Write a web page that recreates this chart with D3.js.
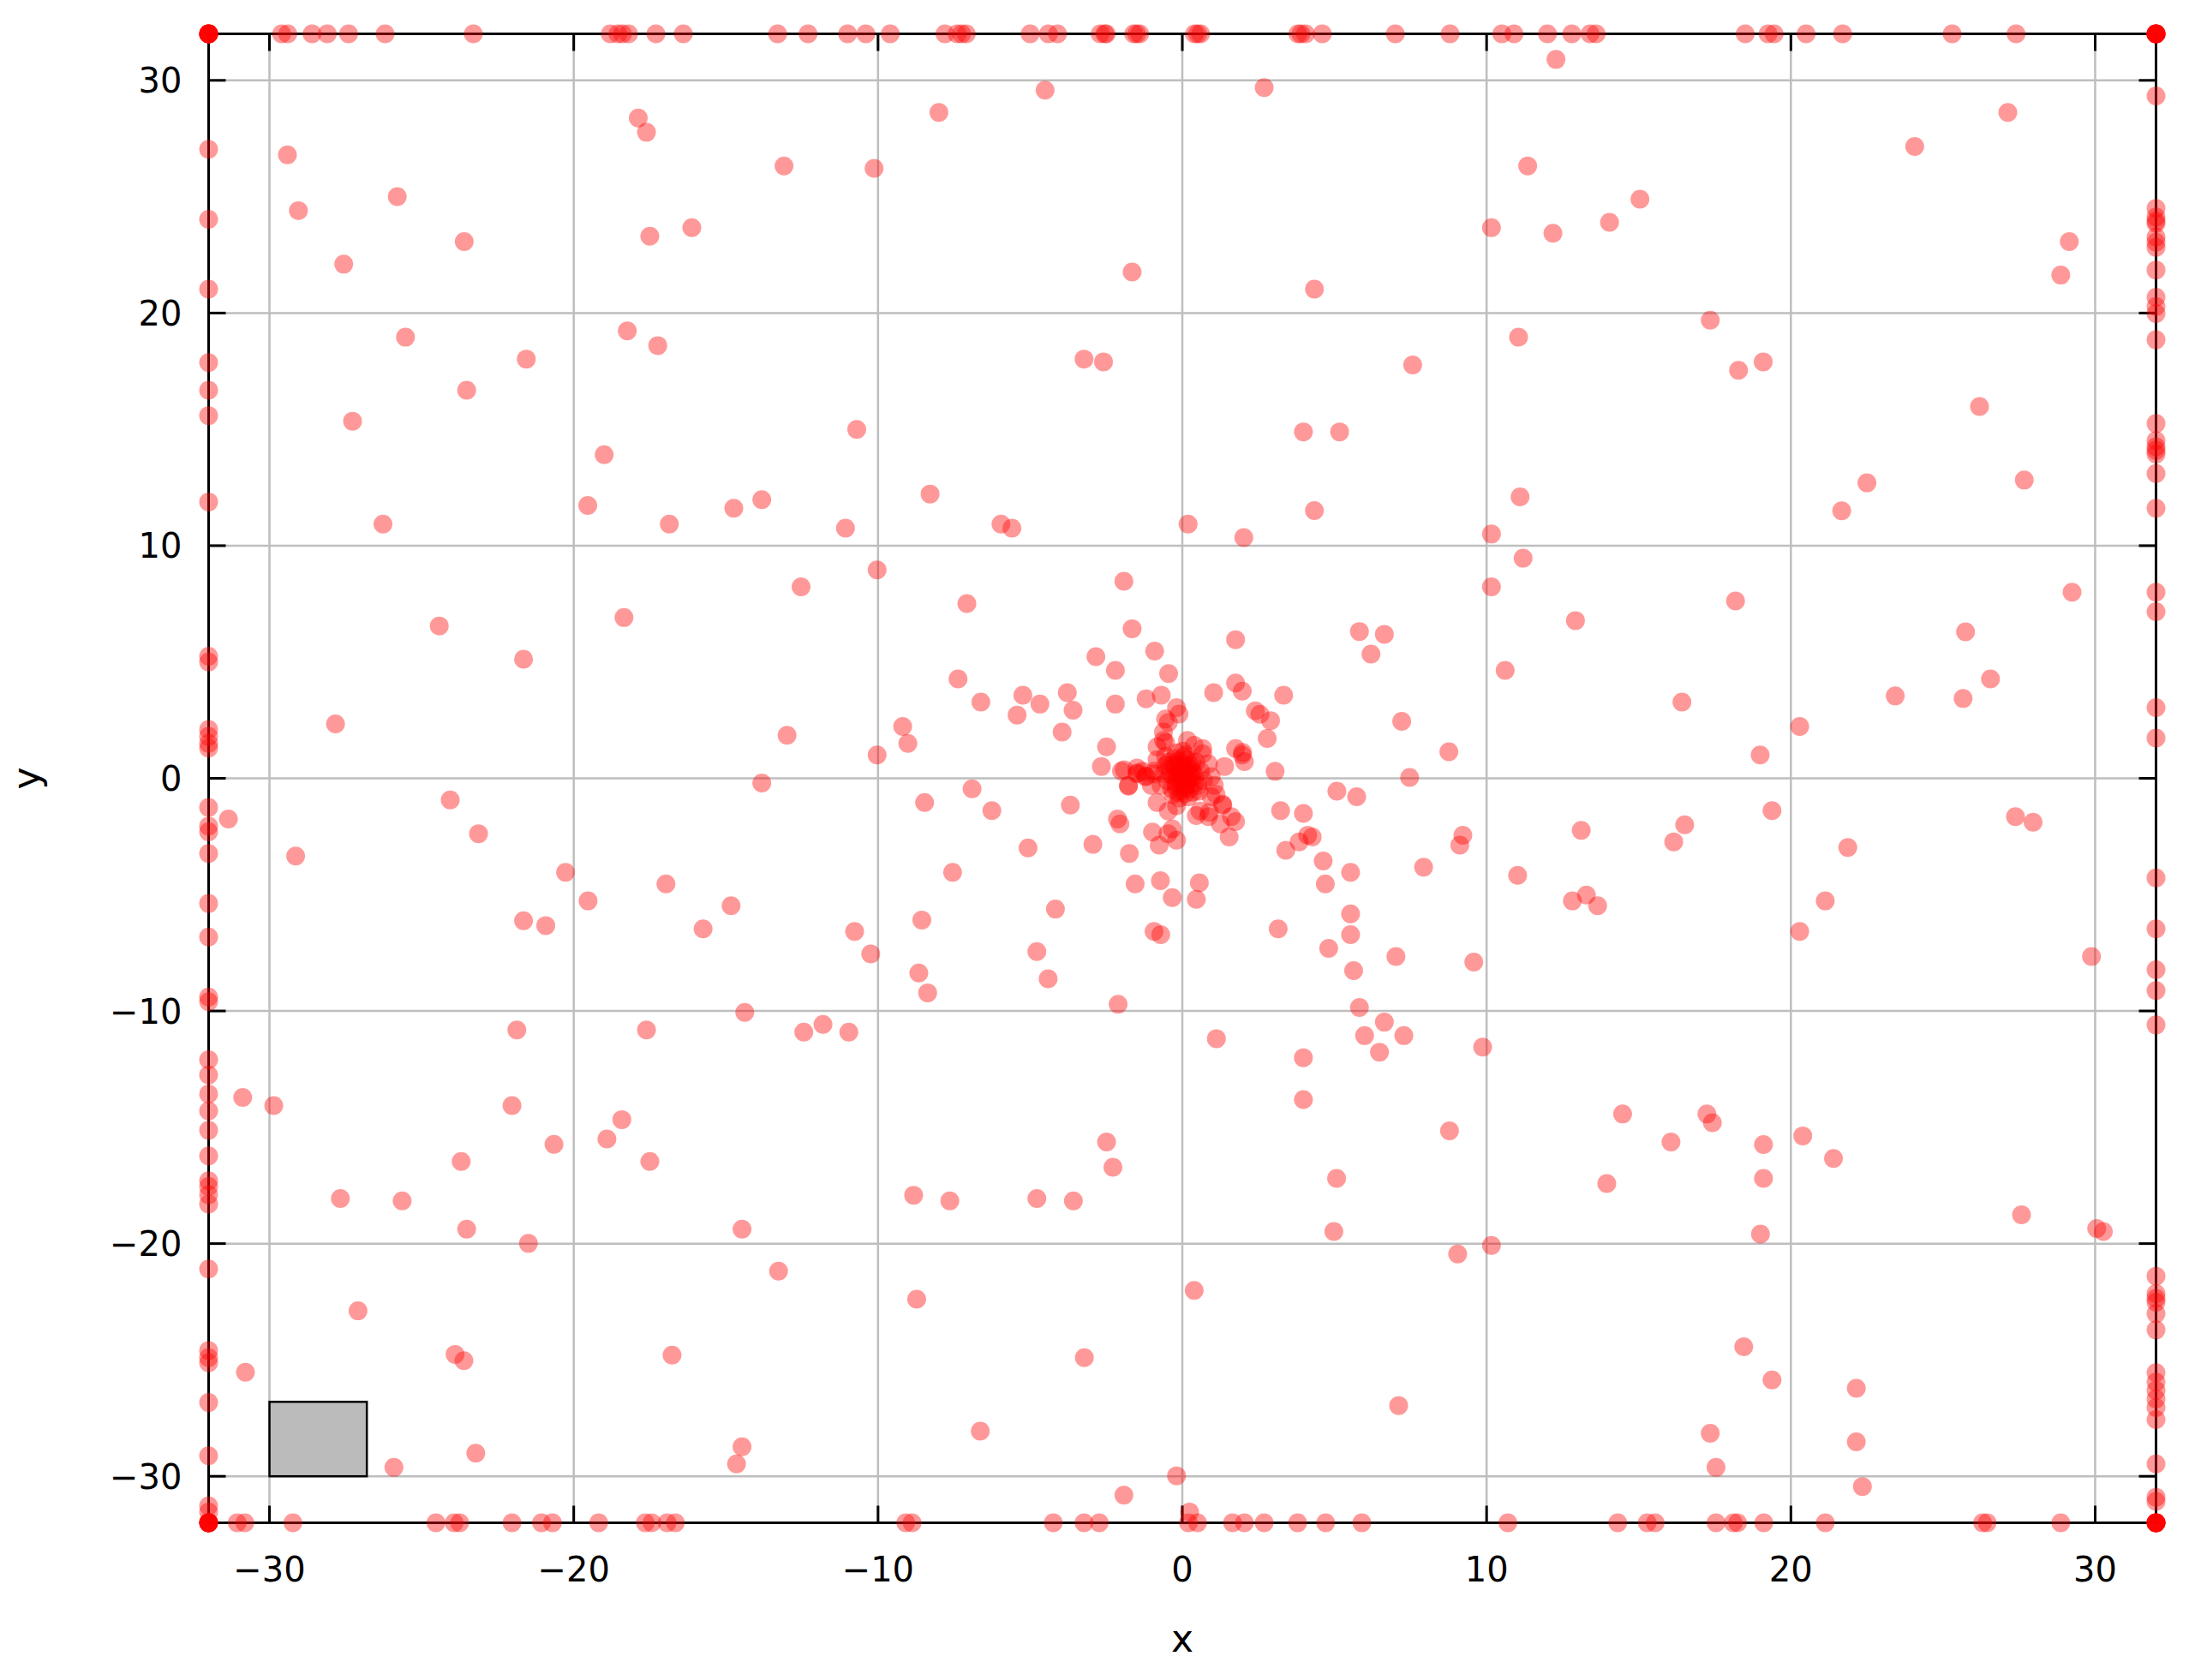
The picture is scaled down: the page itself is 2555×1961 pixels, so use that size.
<!DOCTYPE html>
<html>
<head>
<meta charset="utf-8">
<script src="https://cdn.jsdelivr.net/npm/d3@7"></script>
<style>
  html, body { margin: 0; padding: 0; background: #ffffff; }
  svg { display: block; }
  text { font-family: "DejaVu Sans", Verdana, sans-serif; fill: #000; }
</style>
</head>
<body>
<script>
// ---------------- DATA ----------------
const xTicks = [-30, -20, -10, 0, 10, 20, 30];
const yTicks = [-30, -20, -10, 0, 10, 20, 30];
const xDomain = [-32, 32];
const yDomain = [-32, 32];
const xLabel = "x";
const yLabel = "y";

// grey key box (data coords)
const keyBox = [[-30, -30], [-26.8, -26.8]];

// interior points [x, y]
const scatterPoints = [
  [-17.88,28.38],[-17.61,27.77],[-29.41,26.8],[-13.09,26.32],[-25.8,25.0],[-29.05,24.4],[-16.12,23.67],
  [-17.5,23.3],[-23.6,23.07],[-27.56,22.1],[-25.53,18.96],[-18.24,19.23],[-17.24,18.6],[-21.56,18.02],
  [-23.52,16.68],[-27.27,15.35],[-10.7,15.0],[-19.0,13.91],[-19.54,11.73],[-14.74,11.61],[-13.82,11.98],
  [-26.27,10.93],[-16.86,10.93],[-11.07,10.75],
  [-4.51,29.58],[2.69,29.69],[-8.0,28.62],[-10.13,26.22],[10.16,23.67],[-1.65,21.76],[4.34,21.03],
  [-3.23,18.02],[-2.59,17.9],[7.57,17.77],[11.05,18.96],[3.98,14.89],[5.17,14.89],[-8.29,12.22],
  [4.34,11.51],[11.1,12.1],[-5.96,10.93],[-5.6,10.75],[0.19,10.93],[2.02,10.35],[10.16,10.5],
  [12.28,30.9],[27.13,28.62],[24.07,27.16],[11.35,26.32],[15.04,24.89],[14.04,23.9],[12.18,23.43],
  [29.15,23.07],[28.87,21.63],[17.35,19.69],[19.09,17.9],[18.28,17.54],[26.2,15.98],[22.5,12.7],
  [27.67,12.82],[21.67,11.5],
  [-12.53,8.23],[-18.35,6.91],[-24.42,6.55],[-21.65,5.12],[-27.83,2.34],[-12.99,1.85],[-13.82,-0.2],
  [-31.35,-1.75],[-24.06,-0.93],[-23.13,-2.38],[-29.14,-3.34],[-20.27,-4.04],[-16.97,-4.54],
  [-19.53,-5.27],[-14.83,-5.48],[-21.65,-6.12],[-20.92,-6.33],[-15.75,-6.47],[-14.38,-10.06],
  [11.2,9.46],[-10.03,8.96],[-1.92,8.47],[10.16,8.23],[-7.08,7.51],[-1.65,6.43],[1.75,5.96],[5.82,6.31],
  [6.64,6.19],[6.2,5.34],[-0.91,5.47],[-2.84,5.23],[-2.2,4.64],[-0.45,4.5],[10.61,4.64],[-7.37,4.27],
  [1.75,4.1],[1.97,3.75],[1.03,3.68],[3.33,3.57],[-6.62,3.28],[-5.24,3.57],[-4.68,3.19],[-3.78,3.68],
  [-3.59,2.93],[-5.43,2.72],[-2.2,3.19],[-1.19,3.42],[-0.69,3.57],[-0.19,3.04],[-0.11,2.76],[-0.55,2.55],
  [2.4,2.9],[2.55,2.75],[2.9,2.48],[7.21,2.45],[-9.19,2.23],[-9.02,1.5],[-3.95,1.99],[2.79,1.71],
  [-0.62,1.99],[-0.62,1.63],[-0.83,1.35],[0.17,1.63],[0.67,1.28],[-2.49,1.35],[1.75,1.28],[1.97,1.0],
  [2.04,0.72],[-10.03,1.0],[8.76,1.14],[1.39,0.51],[-2.66,0.51],[3.05,0.3],[7.47,0.04],[-1.91,0.37],
  [-1.48,0.23],[-1.77,-0.34],[-1.19,0.09],[-6.91,-0.45],[-8.47,-1.04],[5.08,-0.55],[5.73,-0.79],
  [-6.26,-1.39],[-3.68,-1.15],[-0.83,-1.04],[-0.19,-1.18],[1.11,-0.69],[1.32,-1.11],[0.89,-1.46],
  [0.46,-1.6],[3.23,-1.39],[3.98,-1.51],[-2.13,-1.75],[-2.05,-1.96],[1.75,-1.86],[1.25,-1.96],
  [4.12,-2.45],[4.27,-2.52],[3.84,-2.73],[3.4,-3.09],[9.22,-2.45],[9.12,-2.87],[1.54,-2.52],
  [-0.98,-2.31],[-0.33,-2.17],[-0.47,-2.38],[-0.19,-2.66],[-0.76,-2.87],[-2.94,-2.84],[-5.07,-2.99],
  [-1.74,-3.23],[4.63,-3.55],[5.53,-4.04],[4.7,-4.54],[7.93,-3.82],[11.02,-4.17],[-7.55,-4.04],
  [-1.55,-4.54],[-0.72,-4.4],[0.56,-4.49],[-0.33,-5.13],[0.46,-5.2],[-4.17,-5.62],[-8.56,-6.09],
  [-10.77,-6.58],[5.53,-5.83],[5.53,-6.72],[3.15,-6.47],[-0.93,-6.58],[-0.71,-6.72],[-10.24,-7.55],
  [-4.78,-7.45],[4.81,-7.31],[7.02,-7.66],[9.58,-7.9],[-8.66,-8.37],[-4.41,-8.62],[5.63,-8.27],
  [-8.37,-9.22],[-2.11,-9.71],[5.82,-9.85],[6.64,-10.48],
  [-0.46,2.4],[-0.55,1.54],[1.98,1.11],[-2.0,0.31],[-1.49,0.44],[-1.02,-0.3],[-0.83,0.8],[-0.92,0.31],
  [-0.55,0.56],[0.01,1.17],[0.39,1.42],[0.67,1.05],[0.86,0.62],[0.95,0.07],[1.05,-0.3],[0.95,-0.79],
  [1.33,-1.16],[-0.46,-1.41],[0.58,-1.41],[0.86,-1.65],[1.61,-1.65],
  [-1.49,0.19],[-1.21,0.07],[-0.93,0.19],[-1.77,-0.3],[-1.3,0.3],
  [18.18,7.62],[12.92,6.78],[29.24,8.0],[25.74,6.3],[26.56,4.27],[23.43,3.54],[25.66,3.43],[16.42,3.28],
  [20.29,2.23],[18.99,1.0],[19.38,-1.39],[27.38,-1.65],[27.96,-1.89],[13.11,-2.24],[16.51,-2.0],
  [16.15,-2.73],[21.87,-2.97],[12.82,-5.27],[13.28,-5.02],[13.65,-5.48],[21.13,-5.27],[20.29,-6.58],
  [29.88,-7.66],
  [-21.87,-10.82],[-17.61,-10.82],[-12.44,-10.91],[-11.81,-10.58],[-10.96,-10.91],[-30.88,-13.72],
  [-29.86,-14.07],[-22.03,-14.07],[-18.42,-14.67],[-18.91,-15.5],[-20.65,-15.73],[-23.7,-16.47],
  [-17.5,-16.47],[-27.67,-18.06],[-25.64,-18.16],[-23.52,-19.38],[-21.49,-19.99],[-14.47,-19.38],
  [-13.27,-21.18],[-27.09,-22.89],[-23.9,-24.76],[-23.61,-25.03],[-16.77,-24.79],[-30.79,-25.53],
  [-23.22,-29.01],[-25.91,-29.62],[-14.47,-28.73],[-14.65,-29.47],
  [1.12,-11.19],[3.98,-12.01],[5.99,-11.06],[7.28,-11.06],[6.48,-11.77],[9.87,-11.55],[3.98,-13.81],
  [8.78,-15.15],[-2.49,-15.63],[-2.28,-16.72],[5.07,-17.2],[-8.83,-17.92],[-7.64,-18.16],[-4.78,-18.06],
  [-3.58,-18.16],[4.98,-19.48],[9.05,-20.45],[10.16,-20.08],[0.39,-22.01],[-8.73,-22.39],[-3.22,-24.9],
  [7.11,-26.96],[-6.64,-28.06],[-0.19,-29.98],[-1.92,-30.81],[0.24,-31.54],
  [14.47,-14.43],[17.24,-14.43],[17.42,-14.8],[16.06,-15.63],[19.1,-15.74],[20.39,-15.37],[21.4,-16.34],
  [13.95,-17.42],[19.1,-17.2],[27.58,-18.76],[30.05,-19.35],[30.27,-19.48],[19.0,-19.59],[18.45,-24.43],
  [19.38,-25.86],[22.15,-26.22],[22.15,-28.52],[17.35,-28.15],[17.54,-29.62],[22.35,-30.44]
];

// dense core near the origin
const corePoints = [
  [0,0],[0.1,0.2],[-0.1,0.3],[0.2,-0.1],[-0.2,-0.2],[0.3,0.4],[-0.3,0.1],[0.05,-0.4],[-0.05,0.6],
  [0.4,0.1],[-0.4,0.4],[0.15,0.8],[-0.15,-0.6],[0.5,-0.3],[-0.5,-0.1],[0.25,0.55],[-0.25,0.85],
  [0.35,-0.6],[-0.35,-0.45],[0.6,0.3],[-0.6,0.2],[0.1,1.0],[-0.1,-0.85],[0.45,0.7],[-0.45,0.7],
  [0.2,-0.8],[-0.2,1.1],[0.7,-0.1],[-0.7,-0.3],[0.0,0.45],[0.3,0.05],[-0.3,-0.7],[0.55,-0.55],
  [-0.55,0.95],[0.08,-0.2],
  [0.02,0.1],[-0.05,0.25],[0.12,0.35],[-0.18,0.05],[0.22,0.2],[-0.08,-0.1],[0.15,-0.3],[-0.25,0.5],
  [0.32,0.65],[-0.12,0.75],[0.05,0.9],[0.25,-0.45],[-0.2,-0.35],[0.4,-0.2],[-0.38,0.2],[0.18,0.5],
  [-0.02,-0.55],[0.1,-0.65],[-0.3,0.6],[0.35,0.25]
];

// points clamped to the frame
const topEdgeX = [-29.6,-29.4,-28.6,-28.1,-27.4,-26.2,-23.3,-18.8,-18.55,-18.4,-18.2,-17.3,-16.4,-13.3,
  -12.3,-11.0,-10.4,-9.6,-7.8,-7.4,-7.25,-7.1,-5.0,-4.4,-4.1,-2.7,-2.55,-2.5,-1.6,-1.5,-1.4,0.4,0.5,0.6,
  3.8,3.9,4.05,4.6,7.0,8.8,10.5,10.9,12.0,12.8,13.4,13.6,18.5,19.25,19.45,20.5,21.7,25.3,27.4];
const bottomEdgeX = [-31.06,-30.81,-29.23,-24.53,-23.93,-23.75,-22.03,-21.06,-20.7,-19.18,-17.65,-17.43,
  -16.93,-16.66,-9.09,-8.88,-4.24,-3.23,-2.73,0.2,0.5,1.65,2.04,2.69,3.79,4.71,5.9,10.7,14.31,15.28,
  15.54,17.54,18.11,18.25,19.11,21.13,26.3,26.45,28.87];
const leftEdgeY = [27.04,24.03,21.03,17.87,16.68,15.59,11.88,5.25,5.0,2.1,1.8,1.5,1.3,-1.25,-2.05,-2.3,
  -3.23,-5.38,-6.82,-9.4,-9.6,-12.1,-12.75,-13.57,-14.3,-15.13,-16.23,-17.3,-17.55,-17.9,-18.3,-21.09,
  -24.6,-24.9,-25.12,-26.83,-29.12,-31.27,-31.54];
const rightEdgeY = [29.33,24.5,24.13,23.95,23.85,23.26,23.04,22.82,21.85,20.68,20.28,19.98,18.85,15.25,
  14.52,14.25,14.1,13.94,13.1,11.61,8.0,7.16,3.04,1.73,-4.28,-6.47,-8.23,-9.12,-10.6,-21.4,-22.15,
  -22.35,-22.52,-23.01,-23.71,-25.55,-25.95,-26.31,-26.68,-27.05,-27.56,-29.47,-30.9,-31.08];
// corners (many clamped points stacked)
const cornerPoints = [
  [-32,32],[-32,32],[-32,32],[-32,32],[-32,32],[-32,32],[-32,32],[-32,32],
  [32,32],[32,32],[32,32],[32,32],[32,32],[32,32],[32,32],[32,32],
  [-32,-32],[-32,-32],[-32,-32],[-32,-32],[-32,-32],[-32,-32],[-32,-32],[-32,-32],
  [32,-32],[32,-32],[32,-32],[32,-32],[32,-32],[32,-32],[32,-32],[32,-32]
];

// ---------------- DRAW ----------------
const W = 2555, H = 1961;
const margin = { left: 243.5, right: W - 2516.5, top: 39.5, bottom: H - 1777.5 };

const svg = d3.select("body").append("svg").attr("width", W).attr("height", H);
svg.append("rect").attr("width", W).attr("height", H).attr("fill", "#fff");

const x = d3.scaleLinear().domain(xDomain).range([margin.left, W - margin.right]);
const y = d3.scaleLinear().domain(yDomain).range([H - margin.bottom, margin.top]);
const fmt = d3.format("d");

// grid
const grid = svg.append("g").attr("stroke", "#bebebe").attr("stroke-width", 2.5);
grid.selectAll("line.gx").data(xTicks).join("line").attr("class", "gx")
  .attr("x1", d => x(d)).attr("x2", d => x(d)).attr("y1", y(yDomain[0])).attr("y2", y(yDomain[1]));
grid.selectAll("line.gy").data(yTicks).join("line").attr("class", "gy")
  .attr("y1", d => y(d)).attr("y2", d => y(d)).attr("x1", x(xDomain[0])).attr("x2", x(xDomain[1]));

// key box
svg.append("rect")
  .attr("x", x(keyBox[0][0])).attr("y", y(keyBox[1][1]))
  .attr("width", x(keyBox[1][0]) - x(keyBox[0][0]))
  .attr("height", y(keyBox[0][1]) - y(keyBox[1][1]))
  .attr("fill", "#bbbbbb").attr("stroke", "#000").attr("stroke-width", 2.5);

// frame
svg.append("rect")
  .attr("x", x(xDomain[0])).attr("y", y(yDomain[1]))
  .attr("width", x(xDomain[1]) - x(xDomain[0]))
  .attr("height", y(yDomain[0]) - y(yDomain[1]))
  .attr("fill", "none").attr("stroke", "#000").attr("stroke-width", 3);

// tick marks (inward, mirrored)
const tickLen = 20;
const ticks = svg.append("g").attr("stroke", "#000").attr("stroke-width", 3);
xTicks.forEach(t => {
  ticks.append("line").attr("x1", x(t)).attr("x2", x(t)).attr("y1", y(yDomain[0])).attr("y2", y(yDomain[0]) - tickLen);
  ticks.append("line").attr("x1", x(t)).attr("x2", x(t)).attr("y1", y(yDomain[1])).attr("y2", y(yDomain[1]) + tickLen);
});
yTicks.forEach(t => {
  ticks.append("line").attr("y1", y(t)).attr("y2", y(t)).attr("x1", x(xDomain[0])).attr("x2", x(xDomain[0]) + tickLen);
  ticks.append("line").attr("y1", y(t)).attr("y2", y(t)).attr("x1", x(xDomain[1])).attr("x2", x(xDomain[1]) - tickLen);
});

// tick labels
svg.append("g").selectAll("text").data(xTicks).join("text")
  .attr("x", d => x(d)).attr("y", y(yDomain[0]) + 68)
  .attr("text-anchor", "middle").attr("font-size", 40).text(d => fmt(d));
svg.append("g").selectAll("text").data(yTicks).join("text")
  .attr("x", x(xDomain[0]) - 31).attr("y", d => y(d) + 14.5)
  .attr("text-anchor", "end").attr("font-size", 40).text(d => fmt(d));

// axis titles
svg.append("text").attr("x", x(0)).attr("y", 1928)
  .attr("text-anchor", "middle").attr("font-size", 44).text(xLabel);
svg.append("text").attr("transform", `translate(46,${y(0)}) rotate(-90)`)
  .attr("text-anchor", "middle").attr("font-size", 44).text(yLabel);

// points
const allPoints = []
  .concat(scatterPoints)
  .concat(corePoints)
  .concat(topEdgeX.map(v => [v, yDomain[1]]))
  .concat(bottomEdgeX.map(v => [v, yDomain[0]]))
  .concat(leftEdgeY.map(v => [xDomain[0], v]))
  .concat(rightEdgeY.map(v => [xDomain[1], v]))
  .concat(cornerPoints);

svg.append("g").selectAll("circle").data(allPoints).join("circle")
  .attr("cx", d => x(d[0])).attr("cy", d => y(d[1])).attr("r", 11)
  .attr("fill", "#ff0000").attr("fill-opacity", 0.4);
</script>
</body>
</html>
